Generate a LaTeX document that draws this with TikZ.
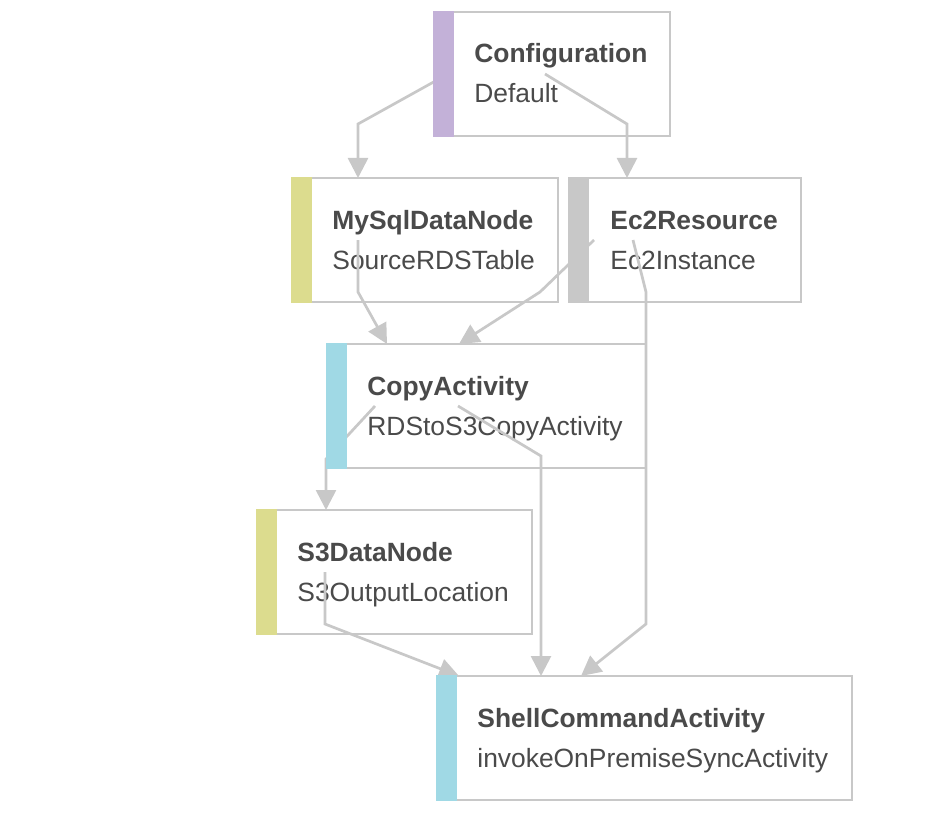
\documentclass[tikz,border=0pt]{standalone}
\usepackage{fontspec}
\setmainfont{Liberation Sans}
\usetikzlibrary{arrows.meta,calc,positioning}

\definecolor{linegray}{HTML}{C8C8C8}
\definecolor{textgray}{HTML}{4A4A4A}
\definecolor{cfgbar}{HTML}{C3B1D8}
\definecolor{databar}{HTML}{DCDC8E}
\definecolor{resbar}{HTML}{C8C8C8}
\definecolor{actbar}{HTML}{A0D9E5}

\tikzset{
  objbox/.style={draw=linegray,line width=1.4pt,fill=white,minimum height=62pt,
                 inner sep=0pt,outer sep=0pt,anchor=north west},
  objtitle/.style={anchor=base west,inner sep=0pt,text=textgray,
                   font=\fontsize{13.2}{15}\selectfont\bfseries},
  objname/.style={anchor=base west,inner sep=0pt,text=textgray,
                  font=\fontsize{13.2}{15}\selectfont},
  edge/.style={draw=linegray,line width=1.35pt,
               -{Triangle[length=10pt,width=10pt]}}
}

\begin{document}
\begin{tikzpicture}[x=0.5pt,y=-0.5pt]

\useasboundingbox (0,0) rectangle (940,818);

% boxes
\node[objbox,minimum width=118pt]   (cfg)   at (434,12)  {};
\node[objbox,minimum width=133pt]   (mysql) at (292,178) {};
\node[objbox,minimum width=116pt]   (ec2)   at (569,178) {};
\node[objbox,minimum width=159.5pt] (copy)  at (327,344) {};
\node[objbox,minimum width=137.5pt] (s3)    at (257,510) {};
\node[objbox,minimum width=207.5pt] (shell) at (437,676) {};

% texts
\node[objtitle] (cfgT)   at ([xshift=20pt,yshift=-25.5pt]cfg.north west)   {Configuration};
\node[objname]  (cfgN)   at ([xshift=20pt,yshift=-45.5pt]cfg.north west)   {Default};
\node[objtitle] (mysqlT) at ([xshift=20pt,yshift=-25.5pt]mysql.north west) {MySqlDataNode};
\node[objname]  (mysqlN) at ([xshift=20pt,yshift=-45.5pt]mysql.north west) {SourceRDSTable};
\node[objtitle] (ec2T)   at ([xshift=20.5pt,yshift=-25.5pt]ec2.north west) {Ec2Resource};
\node[objname]  (ec2N)   at ([xshift=20.5pt,yshift=-45.5pt]ec2.north west) {Ec2Instance};
\node[objtitle] (copyT)  at ([xshift=20pt,yshift=-25.5pt]copy.north west)  {CopyActivity};
\node[objname]  (copyN)  at ([xshift=20pt,yshift=-45.5pt]copy.north west)  {RDStoS3CopyActivity};
\node[objtitle] (s3T)    at ([xshift=20pt,yshift=-25.5pt]s3.north west)    {S3DataNode};
\node[objname]  (s3N)    at ([xshift=20pt,yshift=-45.5pt]s3.north west)    {S3OutputLocation};
\node[objtitle] (shellT) at ([xshift=20pt,yshift=-25.5pt]shell.north west) {ShellCommandActivity};
\node[objname]  (shellN) at ([xshift=20pt,yshift=-45.5pt]shell.north west) {invokeOnPremiseSyncActivity};

% edge starts
\coordinate (cfg-a)   at (448,74);
\coordinate (cfg-b)   at (545,74);
\coordinate (mysql-a) at (358,240);
\coordinate (ec2-a)   at (594,240);
\coordinate (ec2-b)   at (633,240);
\coordinate (copy-a)  at (375,406);
\coordinate (copy-b)  at (458,406);
\coordinate (s3-a)    at (325,572);

% edges
\draw[edge] (cfg-a) -- (358,124) -- (358,0 |- mysql.north);
\draw[edge] (cfg-b) -- (627,124) -- (627,0 |- ec2.north);
\draw[edge] (mysql-a) -- (358,292) -- (387,0 |- copy.north);
\draw[edge] (ec2-a) -- (540,292) -- (459,0 |- copy.north);
\draw[edge] (ec2-b) -- (646,292) -- (646,624) -- (581,0 |- shell.north);
\draw[edge] (copy-a) -- (326,459) -- (326,0 |- s3.north);
\draw[edge] (copy-b) -- (541,456) -- (541,0 |- shell.north);
\draw[edge] (s3-a) -- (325,624) -- (459,0 |- shell.north);

% colour bars
\foreach \n/\c in {cfg/cfgbar,mysql/databar,ec2/resbar,copy/actbar,s3/databar,shell/actbar}
  {\fill[\c] ([xshift=-0.7pt,yshift=0.7pt]\n.north west) rectangle ([xshift=10pt,yshift=-0.7pt]\n.south west);}

\end{tikzpicture}
\end{document}
